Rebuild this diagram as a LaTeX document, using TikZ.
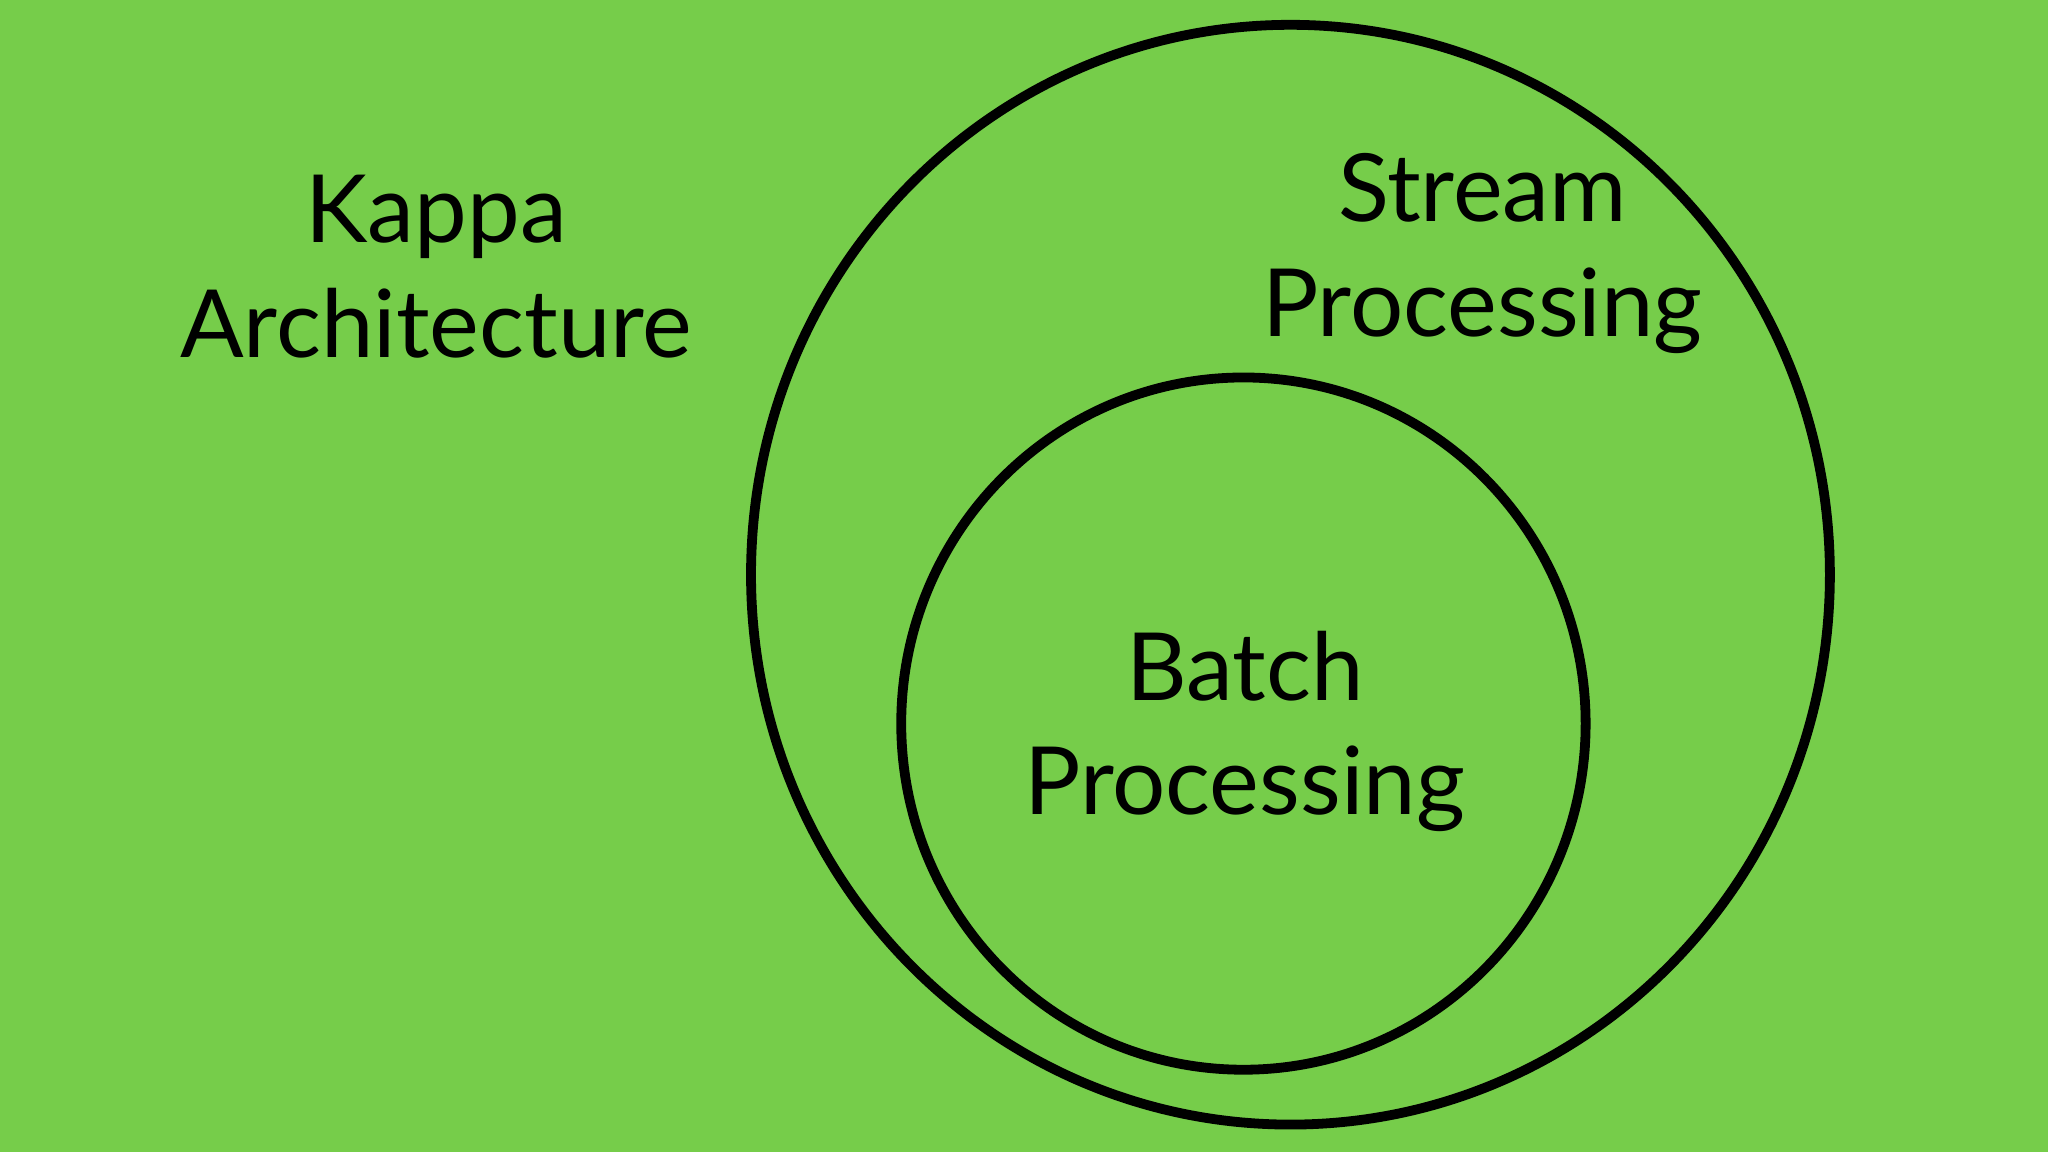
\documentclass[tikz,border=0pt]{standalone}
\usepackage{fontspec}
\setmainfont{Lato}
\definecolor{bg}{HTML}{76CD4A}
\begin{document}
\begin{tikzpicture}[x=0.02cm,y=-0.02cm,
  ring/.style={draw=black,line width=0.15cm},
  lbl/.style={align=center,font=\fontsize{41}{50}\selectfont,inner sep=0pt}]
\fill[bg] (0,0) rectangle (1568,882);
\useasboundingbox (0,0) rectangle (1568,882);
\draw[ring] (988,440) ellipse [x radius=413, y radius=-421];
\draw[ring] (952,554) ellipse [x radius=262, y radius=-265];
\node[lbl] (kappa) at (334,204) {Kappa\\Architecture};
\node[lbl] (stream) at (1135,194) {Stream\\Processing};
\node[lbl] (batch) at (953,560) {Batch\\Processing};
\end{tikzpicture}
\end{document}
